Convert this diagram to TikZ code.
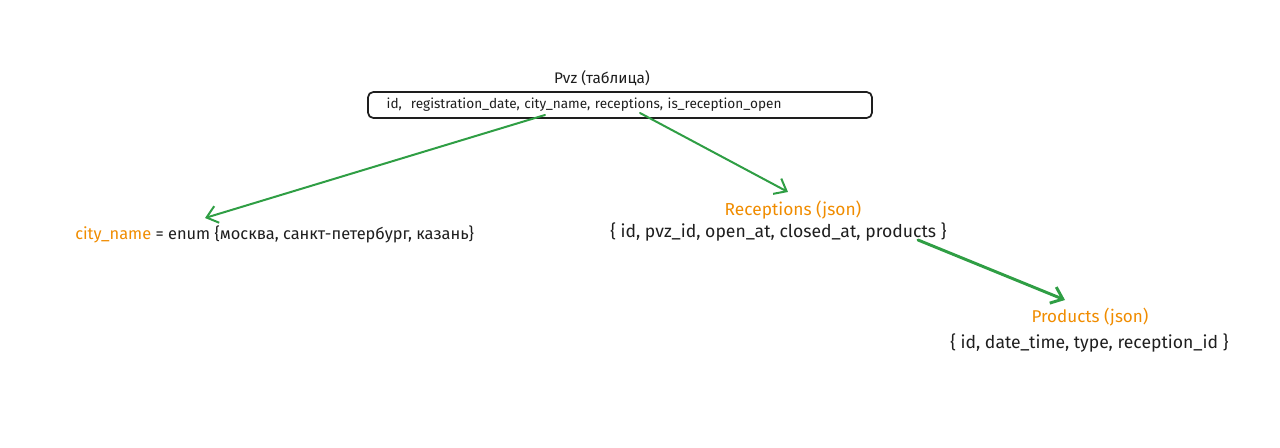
\documentclass[tikz,border=0pt]{standalone}
\usepackage{fontspec}
\setmainfont{Fira Sans}
\usepackage{xcolor}
\usetikzlibrary{arrows.meta,positioning}
\definecolor{exgreen}{HTML}{2F9E44}
\definecolor{exorange}{HTML}{F08C00}
\definecolor{exink}{HTML}{1E1E1E}

\begin{document}
\begin{tikzpicture}[
        x=0.75pt, y=-0.75pt,
        every node/.style={inner sep=0pt,text=exink},
        caption/.style={font=\fontsize{11.5}{13}\selectfont},
        field/.style={font=\fontsize{10.2}{12}\selectfont},
        json/.style={font=\fontsize{13.2}{15}\selectfont},
        link/.style={draw=exgreen,line width=1.5pt,line cap=round,
          -{Straight Barb[length=8pt,width=13pt]}}]
        \useasboundingbox (0,0) rectangle (1280,448);
        % table
        \node[caption] (pvztitle) at (602,78) {Pvz (таблица)};
        \node[field,draw=exink,line width=1.3pt,rounded corners=4pt,
          minimum width=378pt,minimum height=19.5pt,
          text width=350pt,inner xsep=14pt,align=left] (pvzbox) at (620,105)
          {id,\ \ registration\_date, city\_name, receptions, is\_reception\_open};
        % city enum
        \node[json,font=\fontsize{12.3}{14}\selectfont,anchor=west] (cityenum) at (75,234)
          {\textcolor{exorange}{city\_name} = enum \{москва, санкт-петербург, казань\}};
        % receptions
        \node[json,font=\fontsize{13}{15}\selectfont,text=exorange] (rectitle) at (793,210) {Receptions (json)};
        \node[json,anchor=west] (recfields) at (610,232)
          {\{ id, pvz\_id, open\_at, closed\_at, products \}};
        % products
        \node[json,font=\fontsize{12.8}{15}\selectfont,text=exorange] (prodtitle) at (1090,317) {Products (json)};
        \node[json,anchor=west] (prodfields) at (950,343)
          {\{ id, date\_time, type, reception\_id \}};
        % links
        \coordinate (citysrc) at (545,115);
        \coordinate (citydst) at (205,218);
        \coordinate (recsrc) at (640,113);
        \coordinate (recdst) at (788,192);
        \coordinate (prodsrc) at (918,240);
        \coordinate (proddst) at (1065,300);
        \draw[link] (citysrc) -- (citydst);
        \draw[link] (recsrc) -- (recdst);
        \draw[link,line width=2.2pt] (prodsrc) -- (proddst);
      \end{tikzpicture}
\end{document}
